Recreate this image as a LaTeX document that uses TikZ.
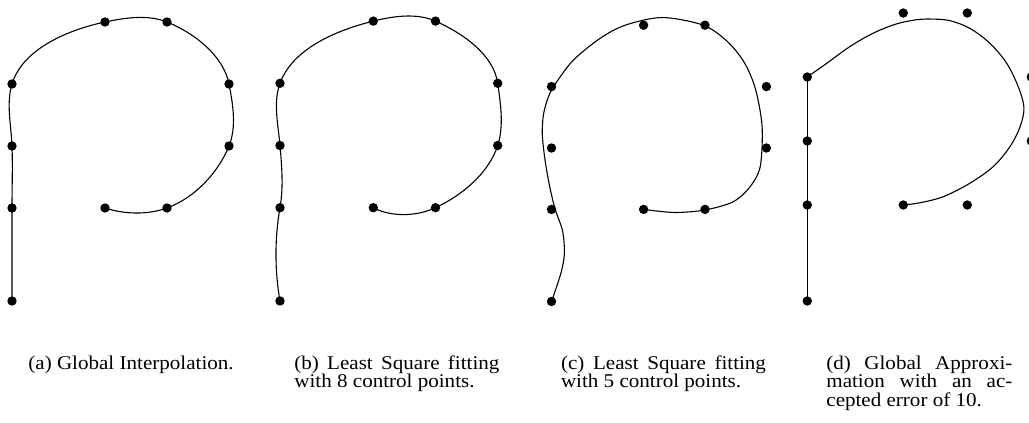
\documentclass[tikz,border=0pt]{standalone}
\usepackage{fontspec}
\setmainfont{Liberation Serif}[FakeStretch=1.08]
\tikzset{
  curve/.style={line width=0.55pt, looseness=0.85},
  captext/.style={inner sep=0pt, anchor=base west, font=\fontsize{9.75}{9.25}\selectfont},
  dotmark/.style={fill=black},
}
\newcommand\ptlist{0/0,0/3,0/5,0/7,3/9,5/9,7/7,7/5,5/3,3/3}
\newcommand\dotrad{2.35pt}
\begin{document}
\begin{tikzpicture}
\useasboundingbox (0,0) rectangle (514.5pt,-211.5pt);
% (a) Global Interpolation
\begin{scope}[shift={(6pt,-150.5pt)}, x=15.5pt, y=15.5pt]
  \foreach \xx/\yy [count=\i from 0] in \ptlist {\coordinate (a\i) at (\xx,\yy);}
  \draw[curve] (a0) to[out=90,in=270] (a1) to[out=90,in=272] (a2)
    to[out=92,in=253] (a3) to[out=73,in=192] (a4) to[out=12,in=158] (a5)
    to[out=-22,in=101] (a6) to[out=-79,in=68] (a7) to[out=-112,in=20] (a8)
    to[out=200,in=-18] (a9);
  \foreach \i in {0,...,9} \fill[dotmark] (a\i) circle[radius=\dotrad];
\end{scope}
% (b) Least square, 8 control points
\begin{scope}[shift={(140pt,-150.5pt)}, x=15.55pt, y=15.55pt]
  \foreach \xx/\yy [count=\i from 0] in \ptlist {\coordinate (b\i) at (\xx,\yy);}
  \draw[curve] (b0) to[out=100,in=260] (b1) to[out=80,in=275] (b2)
    to[out=95,in=250] (b3) to[out=70,in=194] (b4) to[out=14,in=156] (b5)
    to[out=-24,in=98] (b6) to[out=-82,in=72] (b7) to[out=-108,in=25] (b8)
    to[out=205,in=332] (b9);
  \foreach \i in {0,...,9} \fill[dotmark] (b\i) circle[radius=\dotrad];
\end{scope}
% (c) Least square, 5 control points
\begin{scope}[shift={(275.75pt,-150.75pt)}, x=15.35pt, y=15.35pt]
  \foreach \xx/\yy [count=\i from 0] in \ptlist {\coordinate (c\i) at (\xx,\yy);}
  \draw[curve] plot[smooth, tension=0.5] coordinates {(c0) (0.3,0.9) (0.42,1.55)
    (0.36,2.3) (0.12,3.0) (-0.06,3.75) (-0.21,4.6) (-0.3,5.45) (-0.26,6.1)
    (-0.1,6.67) (0.1,7.05) (0.7,7.85)
    (1.58,8.57) (2.4,9.0) (3.6,9.25) (4.95,9.0) (5.75,8.45) (6.3,7.75) (6.65,6.9)
    (6.86,5.7) (6.8,4.4) (6.47,3.74) (5.92,3.25) (5.0,2.98) (4.0,2.9) (c9)};
  \foreach \i in {0,...,9} \fill[dotmark] (c\i) circle[radius=\dotrad];
\end{scope}
% (d) Global approximation
\begin{scope}[shift={(403.65pt,-150.5pt)}, x=16pt, y=16pt]
  \foreach \xx/\yy [count=\i from 0] in \ptlist {\coordinate (d\i) at (\xx,\yy);}
  \draw[curve] (d0) -- (d3);
  \draw[curve] plot[smooth, tension=0.55] coordinates {(d3) (0.61,7.43) (1.33,7.95)
    (2.06,8.37) (2.79,8.66) (3.42,8.79) (3.9,8.81) (4.46,8.76) (5.08,8.52)
    (5.71,8.05) (6.23,7.43) (6.59,6.7) (6.77,6.05) (6.65,5.45) (6.33,4.82)
    (5.81,4.2) (5.08,3.68) (4.25,3.26) (3.52,3.07) (d9)};
  \foreach \i in {0,...,9} \fill[dotmark] (d\i) circle[radius=\dotrad];
\end{scope}
% captions (one node per line, baselines 9.25pt apart)
\node[captext] (capa1) at (14pt,-184.5pt) {(a) Global Interpolation.};
\node[captext] (capb1) at (147pt,-184.5pt) {\hbox to 102.5pt{(b) Least Square fitting}};
\node[captext] (capb2) at (147pt,-193.75pt) {with 8 control points.};
\node[captext] (capc1) at (280.3pt,-184.5pt) {\hbox to 102.5pt{(c) Least Square fitting}};
\node[captext] (capc2) at (280.3pt,-193.75pt) {with 5 control points.};
\node[captext] (capd1) at (413pt,-184.5pt) {\hbox to 93pt{(d) Global Approxi-}};
\node[captext] (capd2) at (413pt,-193.75pt) {\hbox to 93pt{mation with an ac-}};
\node[captext] (capd3) at (413pt,-203pt) {cepted error of 10.};
\end{tikzpicture}
\end{document}
